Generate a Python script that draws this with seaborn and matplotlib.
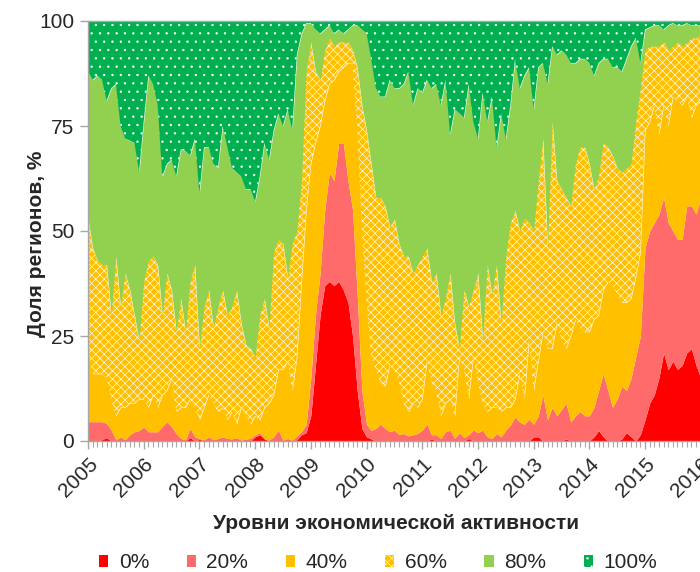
import matplotlib
matplotlib.use('Agg')
import numpy as np
import matplotlib.pyplot as plt
from matplotlib.patches import Patch
from matplotlib.ticker import MultipleLocator
import seaborn as sns


# Monthly data, Jan 2005 ... Jan 2016.
# Each list is the upper edge (cumulative share of regions, %) of one activity level.
start_year = 2005
top_0 = [
    0, 0, 0, 0.3, 0.8, 0, 0, 0, 0, 0, 0, 0,
    0, 0, 0, 0, 0, 0, 0, 0, 0, 0, 0.8, 0,
    0.4, 0, 0, 0, 0, 0, 0, 0, 0, 0, 0, 0,
    1, 1.5, 0.5, 0, 0, 0, 0, 0, 0, 0.3, 1.5, 2,
    6, 18, 30, 37, 38, 37, 38, 36, 33, 25, 12, 3,
    1, 0.5, 0, 0, 0, 0, 0, 0, 0, 0, 0, 0,
    0, 0, 0.5, 0, 0, 0, 0, 0, 0, 0, 0.6, 0,
    0, 0, 0, 0, 0, 0, 0, 0, 0, 0, 0, 0,
    1, 1, 0, 0, 0, 0, 0, 0.5, 0, 0, 0, 0,
    0, 1, 2.5, 1, 0, 0, 0, 0.5, 2, 1, 0, 1.5,
    5, 9, 11, 15, 21, 17, 19, 17, 18, 21, 22, 18,
    15,
]
top_20 = [
    4.6, 4.6, 4.6, 4.6, 4.2, 2.6, 0.3, 1, 0.3, 1.5, 2.2, 2.5,
    3.4, 2.2, 2.2, 2.2, 3.5, 4.6, 3.4, 1.8, 0.6, 0.3, 3, 1,
    0.6, 0.3, 1, 0.3, 0.6, 1, 0.6, 0.5, 0.8, 0.2, 0.5, 0.6,
    1.5, 2, 0.5, 0.2, 1, 2.6, 0.2, 0.6, 0.2, 1.2, 2.2, 4,
    15, 30, 40, 55, 64, 62, 71, 71, 62, 55, 35, 12,
    4, 2.5, 3, 4, 3, 2.2, 2.6, 1.5, 1.8, 1.2, 1.5, 1.8,
    2.6, 4, 1.5, 1.5, 0.6, 2.2, 2.6, 0.6, 2, 0.8, 1.5, 2.6,
    2, 2.6, 1, 0.6, 1.8, 1, 2.6, 3.8, 5.8, 4.5, 4, 5.2,
    4, 6, 11, 5, 8, 6, 7.5, 9, 4.5, 6, 7, 6,
    6, 8, 12, 16, 12, 8, 10, 13, 12, 15, 20, 25,
    46, 50, 52, 54, 58, 52, 50, 48, 48, 56, 56, 54,
    58,
]
top_40 = [
    22, 16, 16, 16, 15, 10, 6, 8, 8, 9, 9, 10,
    10, 8, 11, 8, 11, 12, 15, 7, 8, 8, 10, 8,
    5, 8, 11, 9, 7, 8, 5, 7, 4, 8, 6, 4,
    6, 5, 8, 9, 11, 17, 17, 19, 12, 20, 38, 55,
    66, 71, 75, 81, 85, 86, 88, 89, 90, 90, 74, 50,
    33, 20, 17, 14, 13, 18, 17, 14, 9, 7, 9, 8,
    10, 19, 14, 12, 6, 9, 10, 6, 20, 17, 10, 20,
    14, 9, 7, 8, 8, 7, 8, 8, 10, 16, 10, 24,
    12, 19, 26, 22, 22, 28, 24, 22, 25, 29, 27, 26,
    26, 29, 30, 36, 38, 37, 35, 33, 33, 34, 39, 45,
    74, 76, 80, 73, 80, 75, 82, 81, 80, 82, 77, 80,
    81,
]
top_60 = [
    53, 46, 43, 42, 42, 30, 44, 32, 40, 36, 30, 24,
    38, 43, 44, 42, 30, 40, 36, 26, 34, 26, 38, 42,
    22, 32, 36, 27, 32, 36, 30, 32, 36, 28, 23, 22,
    20, 30, 34, 27, 45, 48, 47, 39, 47, 50, 62, 88,
    95, 88, 86, 93, 96, 94, 95, 95, 95, 93, 89, 80,
    74, 66, 58, 58, 56, 51, 53, 47, 44, 44, 40, 42,
    44, 46, 38, 40, 30, 34, 40, 28, 22, 36, 32, 36,
    40, 24, 42, 35, 42, 28, 44, 52, 55, 50, 53, 52,
    50, 62, 72, 46, 76, 62, 60, 58, 56, 66, 70, 70,
    66, 60, 63, 71, 70, 68, 65, 64, 65, 66, 76, 84,
    93, 94, 94, 94, 95, 93, 94, 95, 94, 95, 96, 96,
    97,
]
top_80 = [
    88, 86, 87, 86, 81, 84, 85, 75, 72, 71.5, 71, 64,
    76, 87, 85, 80, 63, 66, 67, 63, 69.5, 69, 68, 72,
    59, 70, 70, 66, 65, 75, 70, 65, 64, 63, 60, 60,
    57, 63, 71, 67, 74, 78, 75, 79, 74, 92, 97, 99.5,
    99.5, 98, 97, 98, 99, 97, 98, 97, 98, 99, 99, 98,
    97, 91, 84, 82, 82, 86, 84, 84, 85, 88, 80, 84,
    83, 86, 84, 85, 80, 86, 73, 79, 78, 77, 85, 76,
    72, 83, 76, 82, 70, 78, 72, 80, 91, 84, 87, 89,
    79, 89, 90, 85, 94, 92, 93, 92, 90, 90, 91, 91,
    90, 87, 90, 91, 91, 89, 89, 88, 91, 94, 96, 90,
    98, 98.5, 99, 99, 98, 99, 99.5, 99, 99, 99.5, 99, 99,
    99,
]

levels = ['0%', '20%', '40%', '60%', '80%', '100%']
colors = ['#FF0000', '#FF6B6B', '#FFC000', '#FFC000', '#92D050', '#00B050']
hatches = [None, None, None, 'xxxx', None, '..']
year_ticks = list(range(2005, 2017))

sns.set_style('ticks')
plt.rcParams['font.family'] = ['Liberation Sans', 'DejaVu Sans']
plt.rcParams['hatch.color'] = 'white'
plt.rcParams['hatch.linewidth'] = 0.45

t = start_year + np.arange(len(top_0)) / 12
n = len(t)
bounds = np.vstack([np.zeros(n), top_0, top_20, top_40, top_60, top_80, np.full(n, 100.0)])
bounds = np.maximum.accumulate(bounds, axis=0)

fig = plt.figure(figsize=(7, 5.72), dpi=100)
ax = fig.add_axes([88 / 700, 1 - 441 / 572, 617 / 700, 420 / 572])

for i in range(6):
    ax.fill_between(t, bounds[i], bounds[i + 1], facecolor=colors[i],
                    edgecolor='white', hatch=hatches[i], linewidth=0)

ax.set_xlim(2005, 2005 + 617 / 55.7)
ax.set_ylim(0, 100)
ax.set_yticks([0, 25, 50, 75, 100])
ax.set_xticks(year_ticks)
ax.set_xticklabels(year_ticks, rotation=45, ha='right', va='top', rotation_mode='anchor')
ax.xaxis.set_minor_locator(MultipleLocator(1 / 12))
ax.tick_params(axis='both', which='major', labelsize=15, color='#A6A6A6', length=6, width=1, pad=4)
ax.tick_params(axis='x', which='minor', length=4, color='#A6A6A6', width=0.8)

for side in ['left', 'top', 'bottom']:
    ax.spines[side].set_color('#A6A6A6')
    ax.spines[side].set_linewidth(1)
ax.spines['right'].set_visible(False)

ax.set_ylabel('Доля регионов, %', fontsize=15, fontweight='bold')
ax.yaxis.set_label_coords(-0.068, 0.47)
ax.set_xlabel('Уровни экономической активности', fontsize=15, fontweight='bold')
ax.xaxis.set_label_coords(0.5, -0.174)

handles = [Patch(facecolor=c, hatch=h, edgecolor='white', linewidth=0) for c, h in zip(colors, hatches)]
fig.legend(handles, levels, loc='center', bbox_to_anchor=(378 / 700, 1 - 563 / 572), ncol=6,
           frameon=False, fontsize=15, handlelength=0.45, handleheight=0.55,
           handletextpad=0.5, columnspacing=1.8)

fig.savefig('out.png', dpi=100)
